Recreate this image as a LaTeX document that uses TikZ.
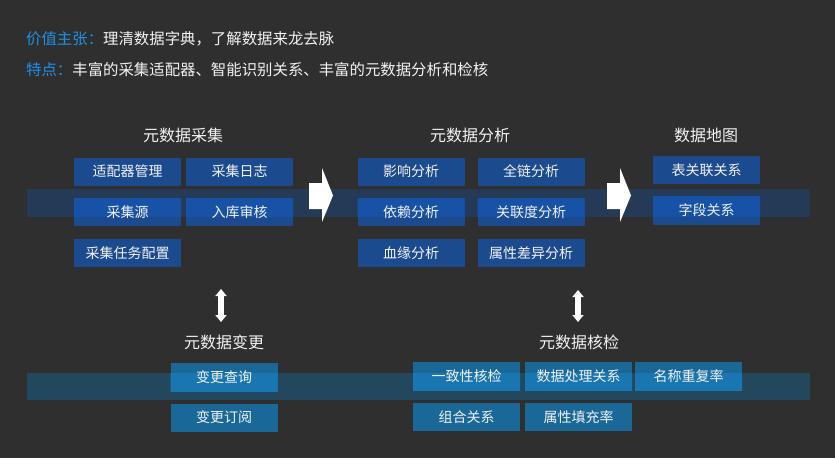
\documentclass[tikz,border=0pt]{standalone}
\usepackage{fontspec}
\setmainfont{Noto Sans CJK SC}
\usetikzlibrary{arrows.meta}
\definecolor{bgc}{HTML}{2F2F2F}
\definecolor{bandtop}{HTML}{243A57}
\definecolor{bandbot}{HTML}{23485E}
\definecolor{boxtop}{HTML}{1B4A8F}
\definecolor{boxtophi}{HTML}{1752A6}
\definecolor{boxbot}{HTML}{1A6898}
\definecolor{boxbothi}{HTML}{1976B0}
\definecolor{hdblue}{HTML}{1E90E6}
\definecolor{txt}{HTML}{F2F2F2}
\tikzset{
  basebox/.style={minimum width=107pt, minimum height=28pt, inner sep=0pt, text=txt,
    font=\fontsize{14pt}{16pt}\selectfont},
  topbox/.style={basebox, fill=boxtop,
    path picture={\fill[boxtophi] (tbNW) rectangle (tbSE);}},
  botbox/.style={basebox, fill=boxbot,
    path picture={\fill[boxbothi] (bbNW) rectangle (bbSE);}},
  grouptitle/.style={text=txt, inner sep=0pt, font=\fontsize{16pt}{18pt}\selectfont},
  hdr/.style={anchor=west, inner sep=0pt, font=\fontsize{15.4pt}{17pt}\selectfont},
  dblarrow/.style={draw=white, line width=5.5pt,
    {Triangle[width=11pt,length=7pt]}-{Triangle[width=11pt,length=7pt]}},
  blockarrow/.style={fill=white}
}
\begin{document}
\begin{tikzpicture}[x=1pt,y=-1pt]
\fill[bgc] (0,0) rectangle (835,458);
\useasboundingbox (0,0) rectangle (835,458);

% bands
\coordinate (tbNW) at (27,189);
\coordinate (tbSE) at (810,217);
\coordinate (bbNW) at (27,373);
\coordinate (bbSE) at (810,400);
\fill[bandtop] (tbNW) rectangle (tbSE);
\fill[bandbot] (bbNW) rectangle (bbSE);

% header
\node[hdr] (h1) at (26,39) {\textcolor{hdblue}{价值主张：}\textcolor{txt}{理清数据字典，了解数据来龙去脉}};
\node[hdr] (h2) at (26,70) {\textcolor{hdblue}{特点：}\textcolor{txt}{丰富的采集适配器、智能识别关系、丰富的元数据分析和检核}};

% group titles
\node[grouptitle] (t1) at (183,135) {元数据采集};
\node[grouptitle] (t2) at (470,135) {元数据分析};
\node[grouptitle] (t3) at (706,135) {数据地图};
\node[grouptitle] (t4) at (224,342) {元数据变更};
\node[grouptitle] (t5) at (579,342) {元数据核检};

% collection
\node[topbox] (a1) at (127.5,171.5) {适配器管理};
\node[topbox] (a2) at (239.5,171.5) {采集日志};
\node[topbox] (a3) at (127.5,212) {采集源};
\node[topbox] (a4) at (239.5,212) {入库审核};
\node[topbox] (a5) at (127.5,253) {采集任务配置};

% analysis
\node[topbox] (b1) at (411,171.5) {影响分析};
\node[topbox] (b2) at (531,171.5) {全链分析};
\node[topbox] (b3) at (411,212) {依赖分析};
\node[topbox] (b4) at (531,212) {关联度分析};
\node[topbox] (b5) at (411,253) {血缘分析};
\node[topbox] (b6) at (531,253) {属性差异分析};

% map
\node[topbox] (c1) at (706.5,170) {表关联关系};
\node[topbox] (c2) at (706.5,210.5) {字段关系};

% change
\node[botbox] (d1) at (224,377) {变更查询};
\node[botbox] (d2) at (224,417.5) {变更订阅};

% check
\node[botbox] (e1) at (466.5,376) {一致性核检};
\node[botbox] (e2) at (578.5,376) {数据处理关系};
\node[botbox] (e3) at (688.5,376) {名称重复率};
\node[botbox] (e4) at (466.5,417) {组合关系};
\node[botbox] (e5) at (578.5,417) {属性填充率};

% block arrows
\fill[blockarrow] (309,183) -- (322,183) -- (322,168) -- (333,195.5) -- (322,222) -- (322,209) -- (309,209) -- cycle;
\fill[blockarrow] (607,183) -- (620,183) -- (620,168) -- (631,195.5) -- (620,222) -- (620,209) -- (607,209) -- cycle;

% double arrows
\coordinate (u1) at (221,289);
\coordinate (v1) at (221,322);
\coordinate (u2) at (578,290);
\coordinate (v2) at (578,322);
\draw[dblarrow] (u1) -- (v1);
\draw[dblarrow] (u2) -- (v2);
\end{tikzpicture}
\end{document}
